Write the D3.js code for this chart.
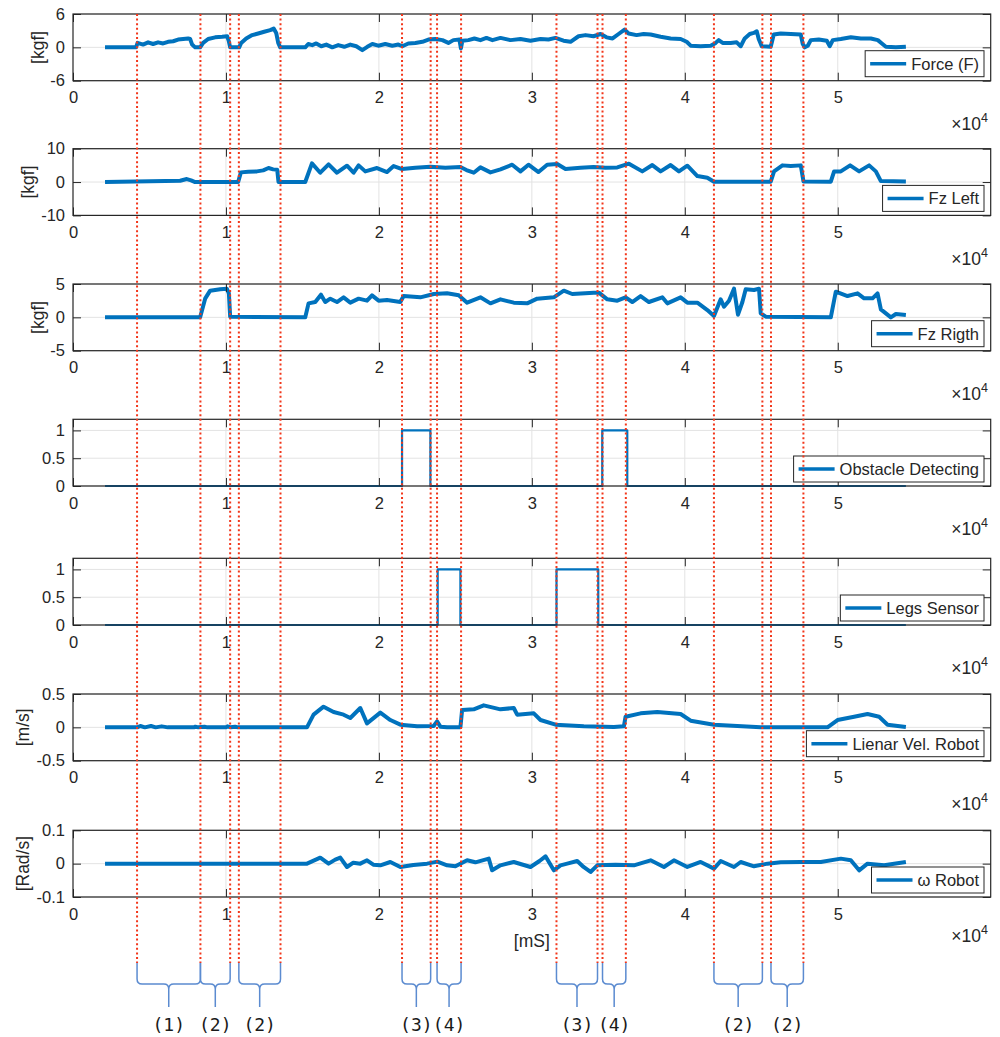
<!DOCTYPE html>
<html>
<head>
<meta charset="utf-8">
<script src="https://cdn.jsdelivr.net/npm/d3@7"></script>
<style>
  body { margin: 0; background: #fff; }
  svg text { font-family: "Liberation Sans", Arial, Helvetica, sans-serif; fill: #262626; }
</style>
</head>
<body>
<div id="chart"></div>
<script>
// ---- data (time in ms) ----
const forceF = [[2094,0],[4123,0],[4221,0.8],[4582,0.5],[4909,0.9],[5236,0.6],[5563,0.9],[5891,0.7],[6218,1.0],[6545,1.1],[6872,1.4],[7200,1.5],[7527,1.6],[7658,1.5],[7789,0.5],[7985,0],[8312,0],[8508,0.8],[8836,1.5],[9294,1.8],[9752,1.9],[10079,2.0],[10178,1.2],[10275,0],[10865,0],[10996,0.8],[11323,1.6],[11716,2.2],[12108,2.5],[12501,2.8],[12893,3.1],[13122,3.4],[13286,2.6],[13417,0.8],[13548,0],[15184,0],[15381,0.6],[15643,0.4],[15904,0.7],[16232,0.2],[16559,0.5],[16952,0.0],[17344,0.4],[17737,0.1],[18130,0.5],[18522,0.2],[18915,-0.5],[19242,0.1],[19570,0.6],[19962,0.3],[20420,0.6],[20879,0.3],[21271,0.5],[21533,0.2],[21925,0.7],[22384,0.8],[22842,1.0],[23235,1.4],[23693,1.5],[24151,1.3],[24544,0.8],[24871,1.3],[25264,1.4],[25362,-0.2],[25460,1.2],[25853,1.3],[26245,1.6],[26638,1.3],[27031,1.7],[27424,1.3],[27947,1.7],[28602,1.3],[29256,1.5],[29911,1.2],[30565,1.5],[31089,1.4],[31547,1.7],[32071,1.2],[32529,1.0],[33052,2.0],[33511,2.2],[34034,2.0],[34492,2.4],[34885,1.8],[35278,1.6],[35670,2.4],[36063,3.2],[36325,2.5],[36849,2.2],[37307,2.4],[37765,2.3],[38419,1.9],[39074,1.6],[39728,1.5],[40121,1.0],[40383,0.3],[41037,0.2],[41692,0.3],[42019,0.8],[42215,1.3],[42477,0.8],[43001,0.8],[43394,0.9],[43655,0.2],[43917,1.6],[44245,2.4],[44506,2.6],[44703,2.9],[44833,1.5],[45029,0.2],[45619,0.1],[45815,2.3],[46273,2.5],[46928,2.4],[47582,2.3],[47713,0.6],[47844,0],[48041,0.3],[48237,1.3],[48761,1.4],[49284,1.2],[49480,0.2],[49677,1.3],[50200,1.5],[50855,1.8],[51510,1.6],[52164,1.6],[52622,1.3],[52884,0.7],[53146,0.1],[53800,0.0],[54455,0.1]];

const fzLeft = [[2094,0],[7003,0.4],[7441,0.9],[7723,0.5],[7985,0],[10799,0],[10976,2.9],[11454,3.1],[12023,3.2],[12435,3.5],[12782,4.2],[13090,3.8],[13352,3.7],[13437,0],[15184,0],[15623,5.6],[16166,2.8],[16710,5.3],[17259,2.8],[17914,4.9],[18346,2.8],[18673,5.0],[19111,3.2],[19877,4.2],[20532,3.0],[20964,4.8],[21513,3.9],[22384,4.3],[23366,4.6],[24347,4.3],[25329,4.5],[25722,3.6],[26200,2.8],[26638,4.4],[27293,2.9],[27947,3.8],[28713,5.2],[29256,3.2],[29780,5.2],[30434,3.0],[31003,5.2],[31658,5.4],[32201,3.9],[33183,4.3],[34034,4.5],[34819,4.3],[35585,4.4],[36345,5.5],[37221,3.2],[37876,5.1],[38419,3.2],[39074,5.1],[39617,3.2],[40166,4.9],[40821,1.8],[41475,1.3],[41907,0.1],[45619,0.1],[45835,3.2],[46385,5.0],[46928,4.8],[47582,5.0],[47759,0.2],[49546,0.1],[49762,3.2],[50200,3.2],[50809,5.0],[51398,3.2],[52052,5.0],[52491,3.2],[52819,0.3],[54455,0.2]];

const fzRight = [[2094,0],[8312,0],[8639,2.8],[8966,4.0],[9621,4.2],[10060,4.3],[10191,3.6],[10275,0.1],[15184,0],[15400,2.1],[15839,2.3],[16212,3.4],[16493,2.3],[16821,2.8],[17259,2.3],[17691,3.0],[18130,2.2],[18673,2.8],[19222,2.5],[19550,3.3],[19982,2.5],[20532,2.6],[21402,2.3],[21618,3.2],[22711,3.0],[23582,3.5],[24458,3.6],[25218,3.3],[25768,2.2],[26638,3.0],[27293,2.1],[27947,2.7],[28818,2.2],[29694,2.1],[30349,2.8],[31436,3.0],[32090,4.0],[32640,3.5],[34053,3.7],[34381,3.7],[34931,2.7],[35585,2.5],[36128,3.0],[36567,2.3],[37110,3.2],[37654,2.3],[38530,3.0],[38857,2.1],[39728,3.0],[40166,2.2],[40821,2.2],[41475,1.1],[41907,0.2],[42346,2.7],[42562,1.6],[42889,2.5],[43216,4.3],[43478,0.4],[43766,2.3],[43982,4.2],[44525,4.1],[44853,4.3],[44964,0.6],[45291,0.1],[49546,0],[49873,3.85],[50639,3.2],[51293,3.6],[51725,2.85],[52275,2.85],[52602,3.6],[52819,1.2],[53473,0],[53800,0.5],[54455,0.35]];

const obstacle = [[2094,0],[21513,1],[23366,0],[34603,1],[36239,0],[54455,0]];
const legsSensor = [[2094,0],[23843,1],[25329,0],[31612,1],[34341,0],[54455,0]];

const linVel = [[2094,0],[4200,0],[4400,0.02],[4700,0],[5100,0.02],[5400,0],[5800,0.015],[6200,0],[7900,0],[8000,0.01],[8200,0],[8600,0.01],[8800,0],[10000,0],[10100,0.015],[10300,0],[10600,0.01],[10800,0],[15296,0],[15728,0.19],[16382,0.31],[17037,0.23],[17691,0.19],[18130,0.14],[18784,0.29],[19222,0.06],[20093,0.22],[20748,0.11],[21402,0.04],[22495,0.015],[23582,0.02],[23802,0.09],[24020,0.01],[24458,0],[25329,0],[25440,0.26],[26200,0.27],[26854,0.33],[27947,0.27],[28818,0.29],[29040,0.19],[30127,0.21],[30565,0.11],[31547,0.04],[33399,0.015],[35363,0.005],[36017,0.015],[36128,0.16],[37110,0.21],[38203,0.23],[39728,0.2],[40383,0.1],[41907,0.04],[44964,0.0],[49330,0],[49984,0.11],[51070,0.16],[51947,0.2],[52707,0.16],[53256,0.04],[54455,0.005]];

const omega = [[2094,0],[15300,0],[16166,0.018],[16710,0],[17148,0.012],[17475,0.018],[17914,-0.01],[18326,0.003],[18784,0],[19222,0.01],[19635,-0.003],[20093,-0.005],[20748,0.005],[21402,-0.01],[22253,-0.004],[23150,0],[23825,0.006],[24458,-0.005],[25002,-0.008],[25768,0.01],[26311,0.004],[27182,0.015],[27404,-0.02],[27947,-0.005],[28818,0.005],[29911,-0.01],[30500,0.008],[30892,0.022],[31436,-0.02],[31874,-0.005],[32311,0],[32966,0.008],[33380,-0.01],[33838,-0.025],[34276,-0.005],[35474,-0.003],[36672,-0.005],[37765,0.01],[38635,-0.01],[39290,0.01],[40166,-0.01],[41037,0.005],[41907,-0.015],[42346,0.008],[43216,-0.01],[43655,0.005],[44525,-0.008],[45401,0],[46273,0.004],[47582,0.005],[48891,0.005],[50200,0.015],[50855,0.01],[51398,-0.02],[51947,0],[53034,-0.005],[54455,0.005]];

const seriesNames = ["Force (F)", "Fz Left", "Fz Rigth", "Obstacle Detecting", "Legs Sensor", "Lienar Vel. Robot", "\u03c9 Robot"];
const yLabels = ["[kgf]", "[kgf]", "[kgf]", "", "", "[m/s]", "[Rad/s]"];
const yDomains = [[-6, 6], [-10, 10], [-5, 5], [0, 1.2], [0, 1.2], [-0.5, 0.5], [-0.1, 0.1]];
const yTicks = [[-6, 0, 6], [-10, 0, 10], [-5, 0, 5], [0, 0.5, 1], [0, 0.5, 1], [-0.5, 0, 0.5], [-0.1, 0, 0.1]];
const xTicks = [0, 10000, 20000, 30000, 40000, 50000];
const xTickLabels = ["0", "1", "2", "3", "4", "5"];

// event markers (red dotted lines) and the phases under them
const eventTimes = [4188, 8331, 10275, 10844, 13567, 21512, 23384, 23802, 25373, 31610, 34293, 34620, 36145, 41905, 45072, 45635, 47755];
const phaseStart = [4188, 8331, 10844, 21512, 23802, 31610, 34620, 41905, 45635];
const phaseEnd = [8331, 10275, 13567, 23384, 25373, 34293, 36145, 45072, 47755];
const phaseLabels = ["(1)", "(2)", "(2)", "(3)", "(4)", "(3)", "(4)", "(2)", "(2)"];

const series = [forceF, fzLeft, fzRight, obstacle, legsSensor, linVel, omega];

// ---- layout ----
const width = 1000, height = 1037;
const left = 73, right = 990.7;
const panelTop = [14, 148.7, 284, 419.3, 558.3, 694, 830.3];
const panelH = 66.7;
const yLabelX = [37.5, 28.3, 37.5, 0, 0, 23.3, 23.3];
const blue = "#0072BD";
const axisColor = "#262626";
const gridColor = "#e3e3e3";
const fontSize = 16.5;

const svg = d3.select("#chart").append("svg")
  .attr("width", width)
  .attr("height", height);

const x = d3.scaleLinear().domain([0, 60000]).range([left, right]);

series.forEach((data, i) => {
  const top = panelTop[i], bottom = top + panelH;
  const y = d3.scaleLinear().domain(yDomains[i]).range([bottom, top]);
  const g = svg.append("g").attr("class", "panel");

  // grid
  g.append("g").selectAll("line").data(xTicks.slice(1)).join("line")
    .attr("x1", d => x(d)).attr("x2", d => x(d))
    .attr("y1", top).attr("y2", bottom)
    .attr("stroke", gridColor);
  g.append("g").selectAll("line").data(yTicks[i]).join("line")
    .attr("x1", left).attr("x2", right)
    .attr("y1", d => y(d)).attr("y2", d => y(d))
    .attr("stroke", gridColor);

  // signal
  const binary = i === 3 || i === 4;
  const line = d3.line()
    .x(d => x(d[0]))
    .y(d => y(d[1]))
    .curve(binary ? d3.curveStepAfter : d3.curveLinear);
  g.append("path")
    .datum(data)
    .attr("fill", "none")
    .attr("stroke", blue)
    .attr("stroke-width", binary ? 2.2 : 4)
    .attr("stroke-linejoin", "round")
    .attr("d", line);

  // axes (ticks pointing inside)
  const fmt = (d, k) => xTickLabels[k];
  g.append("g")
    .attr("transform", `translate(0,${bottom})`)
    .call(d3.axisBottom(x).tickValues(xTicks).tickFormat(fmt).tickSizeInner(-8).tickSizeOuter(0).tickPadding(11))
    .call(a => a.select(".domain").remove());
  g.append("g")
    .attr("transform", `translate(0,${top})`)
    .call(d3.axisTop(x).tickValues(xTicks).tickFormat("").tickSizeInner(-8).tickSizeOuter(0))
    .call(a => a.select(".domain").remove());
  g.append("g")
    .attr("transform", `translate(${left},0)`)
    .call(d3.axisLeft(y).tickValues(yTicks[i]).tickFormat(d => String(d)).tickSizeInner(-8).tickSizeOuter(0).tickPadding(8))
    .call(a => a.select(".domain").remove());
  g.append("g")
    .attr("transform", `translate(${right},0)`)
    .call(d3.axisRight(y).tickValues(yTicks[i]).tickFormat("").tickSizeInner(-8).tickSizeOuter(0))
    .call(a => a.select(".domain").remove());

  g.selectAll(".tick line").attr("stroke", axisColor);
  g.selectAll(".tick text")
    .attr("font-size", fontSize)
    .attr("fill", axisColor)
    .style("font-family", '"Liberation Sans", Arial, sans-serif');

  g.append("rect")
    .attr("x", left).attr("y", top)
    .attr("width", right - left).attr("height", panelH)
    .attr("fill", "none")
    .attr("stroke", axisColor)
    .attr("stroke-width", 1.2);

  // exponent label
  const ex = g.append("text")
    .attr("x", 988)
    .attr("y", bottom + (i === 6 ? 44.7 : 49.3))
    .attr("text-anchor", "end")
    .attr("font-size", 17.5);
  ex.append("tspan").text("\u00d710");
  ex.append("tspan").attr("font-size", 12.5).attr("dy", -8).text("4");

  // y label
  if (yLabels[i]) {
    g.append("text")
      .attr("transform", `translate(${yLabelX[i]},${(top + bottom) / 2}) rotate(-90)`)
      .attr("text-anchor", "middle")
      .attr("dy", "0.35em")
      .attr("font-size", 17.5)
      .text(yLabels[i]);
  }

  // legend
  const lg = g.append("g");
  const lbox = lg.append("rect")
    .attr("fill", "#fff")
    .attr("stroke", axisColor)
    .attr("stroke-width", 1);
  const lt = lg.append("text")
    .attr("font-size", fontSize)
    .attr("fill", "#000")
    .text(seriesNames[i]);
  const tw = lt.node().getComputedTextLength();
  const bw = 46 + tw + 5, bh = 26;
  const bx = 984 - bw, by = bottom - 4 - bh;
  lbox.attr("x", bx).attr("y", by).attr("width", bw).attr("height", bh);
  lg.append("line")
    .attr("x1", bx + 5).attr("x2", bx + 41)
    .attr("y1", by + bh / 2).attr("y2", by + bh / 2)
    .attr("stroke", blue)
    .attr("stroke-width", 3.5);
  lt.attr("x", bx + 46).attr("y", by + bh / 2 + 6);
});

// x label
svg.append("text")
  .attr("x", (left + right) / 2)
  .attr("y", 947)
  .attr("text-anchor", "middle")
  .attr("font-size", 17.5)
  .text("[mS]");

// red dotted event lines
svg.append("g").selectAll("line").data(eventTimes).join("line")
  .attr("x1", d => x(d)).attr("x2", d => x(d))
  .attr("y1", 14).attr("y2", 963)
  .attr("stroke", "#f2361a")
  .attr("stroke-width", 2)
  .attr("stroke-dasharray", "2,2.6");

// braces with phase labels
const braceTop = 963, braceMid = 984, braceTip = 1007, r = 5;
const brace = (a, b) => {
  const m = (a + b) / 2;
  return `M${a},${braceTop} L${a},${braceMid - r} Q${a},${braceMid} ${a + r},${braceMid} ` +
    `L${m - r},${braceMid} Q${m},${braceMid} ${m},${braceMid + r} L${m},${braceTip} ` +
    `M${m},${braceMid + r} Q${m},${braceMid} ${m + r},${braceMid} ` +
    `L${b - r},${braceMid} Q${b},${braceMid} ${b},${braceMid - r} L${b},${braceTop}`;
};
const phases = phaseStart.map((s, k) => ({ s, e: phaseEnd[k], label: phaseLabels[k] }));
const pg = svg.append("g");
pg.selectAll("path").data(phases).join("path")
  .attr("d", d => brace(x(d.s), x(d.e)))
  .attr("fill", "none")
  .attr("stroke", "#5b8bd0")
  .attr("stroke-width", 1.5);
pg.selectAll("text").data(phases).join("text")
  .attr("x", d => (x(d.s) + x(d.e)) / 2)
  .attr("y", 1031)
  .attr("text-anchor", "middle")
  .attr("font-size", 18)
  .style("font-family", '"DejaVu Sans Mono", monospace')
  .style("fill", "#1a1a1a")
  .text(d => d.label);
</script>
</body>
</html>
